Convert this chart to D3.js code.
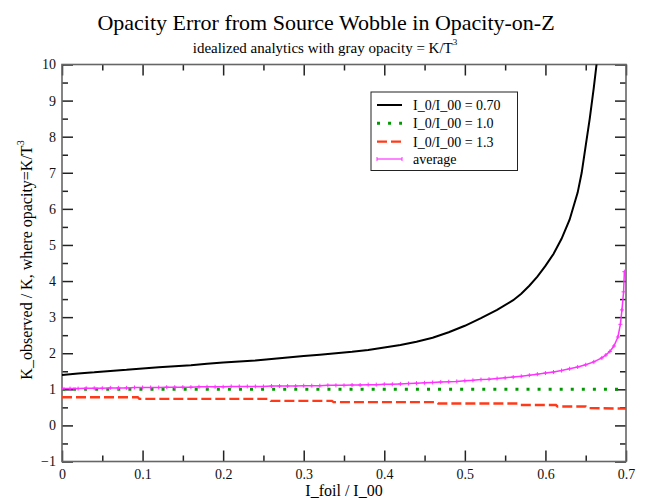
<!DOCTYPE html>
<html>
<head>
<meta charset="utf-8">
<script src="https://cdn.jsdelivr.net/npm/d3@7"></script>
<style>
  html, body { margin: 0; padding: 0; background: #fff; }
  svg, svg text { font-family: "Liberation Serif", "Times New Roman", serif; }
</style>
</head>
<body>
<svg id="chart" width="647" height="500"></svg>
<script>
// ---- data ----
const blackX = [0, 0.02, 0.04, 0.06, 0.08, 0.10, 0.12, 0.14, 0.16, 0.18, 0.20, 0.22, 0.24, 0.26, 0.28, 0.30, 0.32, 0.34, 0.36, 0.38, 0.40, 0.42, 0.44, 0.46, 0.48, 0.50, 0.52, 0.54, 0.56, 0.57, 0.58, 0.59, 0.60, 0.61, 0.62, 0.63, 0.64, 0.645, 0.65, 0.655, 0.66, 0.665];
const blackY = [1.40, 1.44, 1.47, 1.51, 1.54, 1.58, 1.61, 1.64, 1.67, 1.71, 1.74, 1.77, 1.80, 1.84, 1.88, 1.92, 1.96, 2.00, 2.04, 2.09, 2.16, 2.23, 2.32, 2.43, 2.58, 2.76, 2.97, 3.20, 3.47, 3.65, 3.87, 4.12, 4.42, 4.75, 5.17, 5.70, 6.45, 7.00, 7.75, 8.50, 9.35, 10.3];

const greenX = [0, 0.70];
const greenY = [1.0, 1.0];

const redX = [0, 0.094, 0.096, 0.257, 0.259, 0.335, 0.337, 0.465, 0.467, 0.567, 0.569, 0.613, 0.615, 0.650, 0.652, 0.70];
const redY = [0.78, 0.78, 0.735, 0.735, 0.68, 0.68, 0.645, 0.645, 0.605, 0.605, 0.565, 0.565, 0.525, 0.525, 0.48, 0.465];

const avgX = [0, 0.01, 0.02, 0.03, 0.04, 0.05, 0.06, 0.07, 0.08, 0.09, 0.10, 0.11, 0.12, 0.13, 0.14, 0.15, 0.16, 0.17, 0.18, 0.19, 0.20, 0.21, 0.22, 0.23, 0.24, 0.25, 0.26, 0.27, 0.28, 0.29, 0.30, 0.31, 0.32, 0.33, 0.34, 0.35, 0.36, 0.37, 0.38, 0.39, 0.40, 0.41, 0.42, 0.43, 0.44, 0.45, 0.46, 0.47, 0.48, 0.49, 0.50, 0.51, 0.52, 0.53, 0.54, 0.55, 0.56, 0.57, 0.58, 0.59, 0.60, 0.61, 0.62, 0.63, 0.64, 0.65, 0.66, 0.67, 0.675, 0.68, 0.685, 0.69, 0.693, 0.695, 0.697, 0.698];
const avgY = [1.02, 1.02, 1.02, 1.03, 1.03, 1.03, 1.04, 1.04, 1.04, 1.05, 1.05, 1.05, 1.05, 1.06, 1.06, 1.06, 1.06, 1.07, 1.07, 1.07, 1.07, 1.08, 1.08, 1.08, 1.08, 1.08, 1.09, 1.09, 1.09, 1.09, 1.10, 1.10, 1.10, 1.11, 1.11, 1.11, 1.12, 1.12, 1.13, 1.13, 1.14, 1.14, 1.15, 1.16, 1.17, 1.18, 1.19, 1.20, 1.21, 1.22, 1.24, 1.25, 1.27, 1.28, 1.30, 1.32, 1.34, 1.36, 1.39, 1.42, 1.45, 1.48, 1.52, 1.57, 1.62, 1.68, 1.76, 1.87, 1.95, 2.05, 2.20, 2.45, 2.80, 3.20, 3.70, 4.26];

const xTicks = [0, 0.1, 0.2, 0.3, 0.4, 0.5, 0.6, 0.7];
const yTicks = [-1, 0, 1, 2, 3, 4, 5, 6, 7, 8, 9, 10];
const legendLabels = ["I_0/I_00 = 0.70", "I_0/I_00 = 1.0", "I_0/I_00 = 1.3", "average"];

const titleText = "Opacity Error from Source Wobble in Opacity-on-Z";
const subtitleText = "idealized analytics with gray opacity = K/T";
const xLabel = "I_foil / I_00";
const yLabel = "K_observed / K, where opacity=K/T";

// ---- layout ----
const FONT = "'Liberation Serif', 'Times New Roman', serif";
const svg = d3.select("#chart");
const L = 62, R = 626, T = 64.5, B = 461.5;
const x = d3.scaleLinear().domain([0, 0.7]).range([L, R]);
const y = d3.scaleLinear().domain([-1, 10]).range([B, T]);

svg.append("defs").append("clipPath").attr("id", "plotclip")
  .append("rect").attr("x", L).attr("y", T).attr("width", R - L).attr("height", B - T);

// titles
svg.append("text").attr("x", 326).attr("y", 30).attr("text-anchor", "middle")
  .attr("font-family", FONT).attr("font-size", 22).attr("fill", "#000").text(titleText);
const st = svg.append("text").attr("x", 325).attr("y", 53).attr("text-anchor", "middle")
  .attr("font-family", FONT).attr("font-size", 15).attr("fill", "#000");
st.append("tspan").text(subtitleText);
st.append("tspan").attr("dy", -8).attr("font-size", 9).text("3");

// axes: bottom, top, left, right with inward ticks
const tickCol = "#222";
function styleAxis(g) {
  g.attr("font-family", FONT);
  g.select(".domain").remove();
  g.selectAll(".tick line").attr("stroke", tickCol).attr("stroke-width", 1.5);
  g.selectAll("text").attr("font-family", FONT).attr("font-size", 14).attr("fill", "#111");
}
const xMinor = d3.range(0.05, 0.7, 0.1);
const yMinor = d3.range(-0.5, 10, 1);

// bottom
svg.append("g").attr("transform", `translate(0,${B})`)
  .call(d3.axisBottom(x).tickValues(xTicks).tickSize(-11).tickPadding(8).tickFormat(d3.format("")))
  .call(styleAxis);
svg.append("g").attr("transform", `translate(0,${B})`)
  .call(d3.axisBottom(x).tickValues(xMinor).tickSize(-6).tickFormat(""))
  .call(styleAxis);
// top
svg.append("g").attr("transform", `translate(0,${T})`)
  .call(d3.axisTop(x).tickValues(xTicks).tickSize(-11).tickFormat(""))
  .call(styleAxis);
svg.append("g").attr("transform", `translate(0,${T})`)
  .call(d3.axisTop(x).tickValues(xMinor).tickSize(-6).tickFormat(""))
  .call(styleAxis);
// left
svg.append("g").attr("transform", `translate(${L},0)`)
  .call(d3.axisLeft(y).tickValues(yTicks).tickSize(-11).tickPadding(6).tickFormat(d3.format("d")))
  .call(styleAxis);
svg.append("g").attr("transform", `translate(${L},0)`)
  .call(d3.axisLeft(y).tickValues(yMinor).tickSize(-6).tickFormat(""))
  .call(styleAxis);
// right
svg.append("g").attr("transform", `translate(${R},0)`)
  .call(d3.axisRight(y).tickValues(yTicks).tickSize(-11).tickFormat(""))
  .call(styleAxis);
svg.append("g").attr("transform", `translate(${R},0)`)
  .call(d3.axisRight(y).tickValues(yMinor).tickSize(-6).tickFormat(""))
  .call(styleAxis);

// frame
svg.append("rect").attr("x", L).attr("y", T).attr("width", R - L).attr("height", B - T)
  .attr("fill", "none").attr("stroke", "#666").attr("stroke-width", 1.6);

// series
const plot = svg.append("g").attr("clip-path", "url(#plotclip)");
const line = d3.line().x(d => x(d[0])).y(d => y(d[1]));
const zip = (a, b) => a.map((v, i) => [v, b[i]]);

const redCol = "#ff3a1a", greenCol = "#009a00", magCol = "#ff33ff";

plot.append("path").datum(zip(redX, redY)).attr("d", line)
  .attr("fill", "none").attr("stroke", redCol).attr("stroke-width", 2.4)
  .attr("stroke-dasharray", "10,4");
plot.append("path").datum(zip(greenX, greenY)).attr("d", line)
  .attr("fill", "none").attr("stroke", greenCol).attr("stroke-width", 3)
  .attr("stroke-dasharray", "3,8.06");
plot.append("path").datum(zip(avgX, avgY)).attr("d", line)
  .attr("fill", "none").attr("stroke", magCol).attr("stroke-width", 1.5);
plot.append("g").selectAll("path").data(zip(avgX, avgY)).join("path")
  .attr("d", d => `M${x(d[0]) - 2},${y(d[1])}h4M${x(d[0])},${y(d[1]) - 2}v4`)
  .attr("stroke", magCol).attr("stroke-width", 1).attr("fill", "none");
plot.append("path").datum(zip(blackX, blackY)).attr("d", line)
  .attr("fill", "none").attr("stroke", "#000").attr("stroke-width", 2);

// axis labels
svg.append("text").attr("x", 344).attr("y", 496).attr("text-anchor", "middle")
  .attr("font-family", FONT).attr("font-size", 16).attr("fill", "#000").text(xLabel);
const yl = svg.append("text").attr("transform", "translate(32,260) rotate(-90)")
  .attr("text-anchor", "middle").attr("font-family", FONT).attr("font-size", 16).attr("fill", "#000");
yl.append("tspan").text(yLabel);
yl.append("tspan").attr("dy", -8).attr("font-size", 10).text("3");

// legend
const lg = svg.append("g");
lg.append("rect").attr("x", 371).attr("y", 92).attr("width", 146.5).attr("height", 78.5)
  .attr("fill", "#fff").attr("stroke", "#222").attr("stroke-width", 1);
const rowsY = [105, 123.3, 141.6, 159];
const styles = [
  { c: "#000", w: 2, dash: null },
  { c: greenCol, w: 3, dash: "3,8.06" },
  { c: redCol, w: 2.4, dash: "10,4" },
  { c: magCol, w: 1.2, dash: null }
];
legendLabels.forEach((lab, i) => {
  const yy = rowsY[i];
  const p = lg.append("line").attr("x1", 377).attr("x2", 402).attr("y1", yy).attr("y2", yy)
    .attr("stroke", styles[i].c).attr("stroke-width", styles[i].w);
  if (styles[i].dash) p.attr("stroke-dasharray", styles[i].dash);
  if (i === 3) {
    [377, 402].forEach(px => lg.append("path").attr("d", `M${px},${yy - 2}v4`)
      .attr("stroke", magCol).attr("stroke-width", 1));
  }
  lg.append("text").attr("x", 413).attr("y", yy + 5).attr("font-family", FONT).attr("font-size", 14)
    .attr("fill", "#000").text(lab);
});
</script>
</body>
</html>
